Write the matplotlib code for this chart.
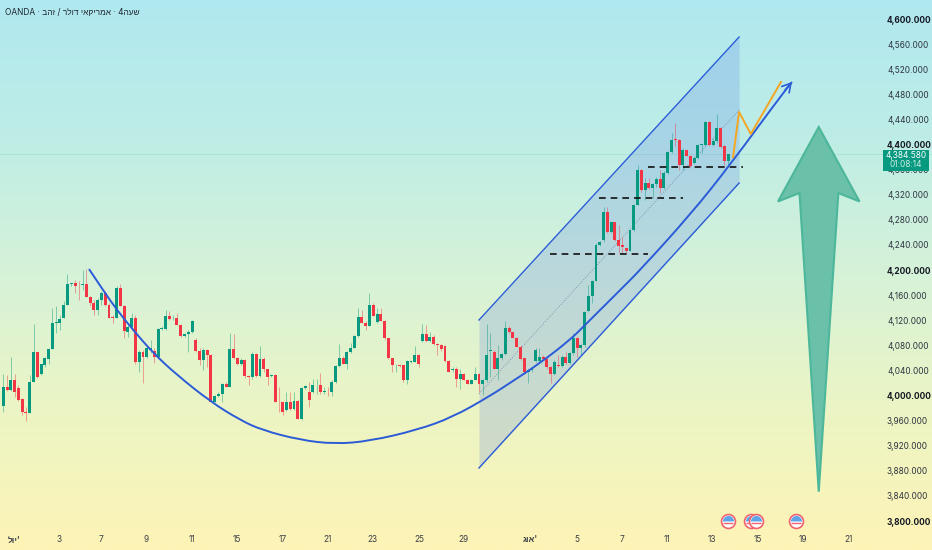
import numpy as np
import matplotlib
matplotlib.use("Agg")
import matplotlib.pyplot as plt
from matplotlib.colors import LinearSegmentedColormap
from matplotlib.patches import Polygon, Rectangle, PathPatch
from matplotlib.path import Path

plt.rcParams['font.family'] = ['Inter', 'Liberation Sans', 'DejaVu Sans']

# 4h gold candles
opens = [3983, 4013, 4008, 4024, 4012, 3995, 3974, 3972, 4021, 4069,
         4035, 4048, 4058, 4074, 4115, 4115, 4123, 4145, 4177, 4179,
         4175, 4176, 4177, 4157, 4148, 4136, 4152, 4163, 4144, 4125,
         4124, 4171, 4143, 4102, 4109, 4123, 4054, 4069, 4061, 4073,
         4071, 4062, 4106, 4106, 4126, 4123, 4124, 4113, 4095, 4098,
         4102, 4089, 4071, 4056, 4072, 4065, 3990, 3999, 4003, 4019,
         4014, 4074, 4059, 4050, 4057, 4031, 4029, 4066, 4031, 4058,
         4042, 4031, 4033, 3990, 3990, 3977, 3990, 3978, 3991, 3963,
         4012, 4006, 4006, 4016, 4017, 4006, 4006, 4005, 4022, 4047,
         4060, 4051, 4069, 4075, 4095, 4125, 4116, 4110, 4145, 4117,
         4130, 4119, 4091, 4059, 4048, 4048, 4048, 4024, 4054, 4054,
         4065, 4087, 4098, 4087, 4093, 4082, 4080, 4079, 4055, 4040,
         4043, 4026, 4035, 4025, 4019, 4025, 4035, 4019, 4025, 4071,
         4070, 4043, 4059, 4066, 4108, 4101, 4092, 4078, 4059, 4038,
         4041, 4055, 4055, 4061, 4058, 4045, 4034, 4049, 4047, 4061,
         4052, 4068, 4091, 4075, 4080, 4134, 4159, 4182, 4240, 4248,
         4293, 4260, 4276, 4248, 4240, 4235, 4231, 4263, 4304, 4360,
         4328, 4338, 4330, 4337, 4345, 4330, 4354, 4388, 4408, 4407,
         4368, 4391, 4382, 4370, 4378, 4399, 4399, 4436, 4400, 4405,
         4426, 4397, 4374]
highs = [4035, 4033, 4061, 4035, 4017, 3996, 3982, 4033, 4114, 4070,
         4051, 4061, 4075, 4139, 4142, 4128, 4150, 4194, 4180, 4184,
         4182, 4200, 4201, 4159, 4152, 4155, 4166, 4166, 4147, 4128,
         4174, 4178, 4144, 4113, 4131, 4128, 4073, 4073, 4081, 4089,
         4075, 4107, 4110, 4136, 4135, 4128, 4132, 4114, 4099, 4105,
         4120, 4091, 4075, 4075, 4074, 4066, 4001, 4005, 4020, 4021,
         4100, 4098, 4061, 4059, 4058, 4033, 4070, 4068, 4079, 4061,
         4043, 4034, 4035, 4014, 3992, 4006, 4006, 4006, 3993, 4014,
         4017, 4022, 4027, 4027, 4036, 4014, 4014, 4024, 4049, 4082,
         4063, 4071, 4083, 4096, 4139, 4136, 4118, 4163, 4147, 4139,
         4139, 4120, 4092, 4060, 4051, 4049, 4049, 4056, 4056, 4079,
         4066, 4114, 4112, 4102, 4096, 4083, 4082, 4080, 4056, 4045,
         4045, 4043, 4036, 4026, 4027, 4045, 4036, 4026, 4114, 4099,
         4072, 4081, 4068, 4118, 4110, 4102, 4094, 4080, 4060, 4043,
         4045, 4075, 4075, 4065, 4059, 4047, 4056, 4065, 4065, 4070,
         4070, 4099, 4093, 4082, 4134, 4176, 4184, 4243, 4247, 4301,
         4301, 4277, 4277, 4272, 4253, 4237, 4264, 4305, 4368, 4361,
         4346, 4346, 4338, 4348, 4360, 4357, 4389, 4418, 4434, 4408,
         4394, 4392, 4383, 4381, 4401, 4401, 4438, 4438, 4410, 4449,
         4428, 4399, 4385]
lows = [3973, 4007, 4007, 3998, 3992, 3969, 3959, 3972, 4021, 4028,
        4033, 4046, 4050, 4074, 4099, 4105, 4123, 4144, 4175, 4163,
        4152, 4168, 4157, 4142, 4128, 4128, 4144, 4142, 4123, 4115,
        4124, 4142, 4091, 4094, 4105, 4051, 4038, 4020, 4059, 4067,
        4052, 4062, 4105, 4105, 4120, 4120, 4112, 4094, 4093, 4070,
        4100, 4070, 4049, 4041, 4045, 3989, 3989, 3997, 3990, 4013,
        4014, 4058, 4049, 4049, 4028, 4017, 4027, 4030, 4030, 4038,
        4017, 4030, 3989, 3974, 3969, 3976, 3977, 3977, 3962, 3961,
        4011, 3981, 4004, 4003, 4003, 4003, 4000, 4000, 4020, 4045,
        4050, 4042, 4068, 4075, 4094, 4115, 4105, 4110, 4126, 4115,
        4118, 4089, 4058, 4038, 4038, 4045, 4022, 4019, 4052, 4053,
        4045, 4086, 4086, 4086, 4080, 4065, 4071, 4054, 4037, 4038,
        4014, 4011, 4024, 4018, 4018, 4024, 4006, 4001, 4022, 4030,
        4042, 4025, 4057, 4065, 4099, 4091, 4077, 4057, 4035, 4020,
        4038, 4054, 4054, 4056, 4043, 4020, 4033, 4045, 4046, 4051,
        4051, 4065, 4062, 4065, 4078, 4133, 4148, 4182, 4239, 4245,
        4259, 4259, 4247, 4227, 4227, 4227, 4230, 4262, 4304, 4325,
        4312, 4329, 4314, 4333, 4322, 4329, 4353, 4386, 4397, 4360,
        4360, 4381, 4362, 4369, 4377, 4386, 4398, 4397, 4398, 4402,
        4394, 4368, 4364]
closes = [4013, 4008, 4024, 4005, 3993, 3973, 3972, 4021, 4069, 4029,
          4050, 4059, 4074, 4116, 4117, 4122, 4145, 4177, 4179, 4175,
          4174, 4177, 4157, 4148, 4136, 4153, 4163, 4144, 4124, 4124,
          4171, 4143, 4103, 4109, 4123, 4054, 4069, 4061, 4075, 4075,
          4062, 4106, 4107, 4126, 4122, 4124, 4113, 4095, 4098, 4102,
          4119, 4071, 4056, 4072, 4065, 3990, 3999, 4003, 4019, 4014,
          4074, 4059, 4050, 4057, 4031, 4029, 4066, 4031, 4058, 4042,
          4030, 4033, 3990, 3989, 3974, 3990, 3978, 3991, 3963, 4012,
          4015, 3993, 4016, 4017, 4005, 4007, 4005, 4022, 4047, 4060,
          4051, 4069, 4075, 4095, 4125, 4116, 4110, 4144, 4127, 4130,
          4119, 4091, 4059, 4048, 4049, 4047, 4024, 4055, 4055, 4065,
          4050, 4098, 4087, 4093, 4082, 4080, 4074, 4055, 4038, 4043,
          4027, 4035, 4025, 4019, 4025, 4035, 4019, 4025, 4064, 4073,
          4043, 4059, 4066, 4108, 4101, 4092, 4078, 4058, 4037, 4041,
          4042, 4073, 4062, 4058, 4045, 4034, 4053, 4047, 4062, 4052,
          4068, 4091, 4075, 4080, 4133, 4159, 4182, 4240, 4245, 4293,
          4260, 4276, 4248, 4239, 4237, 4231, 4263, 4304, 4360, 4328,
          4339, 4330, 4337, 4345, 4330, 4354, 4388, 4407, 4407, 4368,
          4391, 4382, 4366, 4378, 4399, 4400, 4436, 4399, 4406, 4426,
          4396, 4374, 4384.58]
last_price = 4384.58

# drawings on top of the chart: (bar, price)
curve_bars = [22.7, 26.4, 30.1, 34.4, 39.7, 46.0, 55.0, 62.7, 68.5, 78.6, 87.9, 97.1, 109.6,
              119.1, 128.9, 135.0, 142.2, 150.1, 154.1, 163.4, 168.7, 181.9, 192.5, 207.1, 208.9]
curve_prices = [4201.6, 4168.1, 4136.3, 4104.4, 4067.7, 4032.7, 3989.7, 3961.0, 3945.0, 3929.1, 3922.7, 3927.5, 3945.0,
                3965.7, 3999.2, 4023.1, 4051.8, 4088.5, 4112.4, 4168.1, 4200.0, 4287.7, 4367.3, 4486.9, 4499.6]
channel_bars = [126.0, 194.9]
channel_top = [4120.3, 4571.3]
channel_bottom = [3884.5, 4338.6]
channel_mid = [4002.4, 4455.0]
orange_bars = [193.3, 194.9, 198.0, 206.0]
orange_prices = [4380.0, 4451.8, 4416.7, 4499.6]
dash_levels = [4225.5, 4314.7, 4364.2]
dash_start = [144.8, 157.8, 170.8]
dash_end = [170.8, 180.1, 195.9]
big_arrow_bars = [216.0, 226.8, 221.2, 216.0, 210.9, 205.2]
big_arrow_prices = [4427.9, 4309.2, 4322.7, 3846.7, 4322.7, 4309.2]
flag_bars = [192.0, 198.1, 199.4, 210.0]
flag_price = 3800

y_ticks = list(range(3800, 4601, 40))
y_major = [3800, 4000, 4200, 4400, 4600]
x_tick_bars = [2.8, 14.8, 25.9, 37.8, 49.9, 61.9, 74.0, 86.0, 97.9, 110.1, 122.0,
               139.5, 152.0, 163.9, 175.8, 187.7, 199.9, 211.9, 224.0]
# hebrew goes in visual order, matplotlib does no bidi
x_tick_labels = ["לוי'", "3", "7", "9", "11", "15", "17", "21", "23", "25", "29",
                 "גוא'", "5", "7", "11", "13", "15", "19", "21"]
title_text = "OANDA · בהז / רלוד יאקירמא · 4העש"

GREEN = "#089981"
RED = "#F23645"
BLUE = "#2B5BD7"


def smooth_path(xs, ys):
    # quadratic spline through the mid points, the read points are the control points
    pts = np.column_stack([xs, ys])
    verts = [pts[0]]
    codes = [Path.MOVETO]
    for i in range(1, len(pts) - 1):
        end = pts[i + 1] if i == len(pts) - 2 else (pts[i] + pts[i + 1]) / 2
        verts += [pts[i], end]
        codes += [Path.CURVE3, Path.CURVE3]
    return Path(verts, codes)


fig = plt.figure(figsize=(9.32, 5.5), dpi=100)
ax = fig.add_axes([0, 0, 1, 1])

# background gradient
bg = LinearSegmentedColormap.from_list("bg", ["#B0E8F0", "#BEEDE6", "#D6F2D8", "#ECF5C4", "#FEF3B6"])
ax.imshow(np.linspace(0, 1, 256).reshape(-1, 1), cmap=bg, aspect="auto",
          extent=(0, 1, 0, 1), transform=ax.transAxes, zorder=0)

bars = np.arange(len(closes))
opens_a, closes_a = np.array(opens), np.array(closes)
colors = np.where(closes_a >= opens_a, GREEN, RED)

# channel
ax.fill_between(channel_bars, channel_bottom, channel_top, color="#5A7FE8", alpha=0.22, lw=0, zorder=1)
ax.plot(channel_bars, channel_top, color=BLUE, lw=1, zorder=3)
ax.plot(channel_bars, channel_bottom, color=BLUE, lw=1, zorder=3)
ax.plot(channel_bars, channel_mid, color="#7F93B0", lw=0.7, ls=":", zorder=2)

ax.axhline(last_price, color=GREEN, lw=0.7, alpha=0.12, zorder=1)

# candles
ax.vlines(bars, lows, highs, colors=colors, lw=0.7, alpha=0.45, zorder=2)
body = np.maximum(np.abs(closes_a - opens_a), 1.2)
ax.bar(bars, body, bottom=np.minimum(opens_a, closes_a), width=0.78, color=colors, lw=0, zorder=2.5)

for level, x0, x1 in zip(dash_levels, dash_start, dash_end):
    ax.plot([x0, x1], [level, level], color="#111111", lw=1.2, ls=(0, (4, 3)), zorder=4)

ax.add_patch(PathPatch(smooth_path(curve_bars, curve_prices), fill=False, edgecolor=BLUE, lw=1.4, zorder=5))
ax.annotate("", xy=(curve_bars[-1], curve_prices[-1]), xytext=(curve_bars[-2], curve_prices[-2]),
            arrowprops=dict(arrowstyle="->,head_length=0.6,head_width=0.35", color=BLUE, lw=1.2,
                            shrinkA=0, shrinkB=0), zorder=5)
ax.plot(orange_bars, orange_prices, color="#F5A623", lw=1.4, zorder=5)

ax.add_patch(Polygon(np.column_stack([big_arrow_bars, big_arrow_prices]), closed=True,
                     facecolor="#6AC0A9", edgecolor="#4DB79B", lw=1.5, joinstyle="miter", zorder=6))

# event flags
for bx in flag_bars:
    ax.plot(bx, flag_price, "o", ms=10, mfc="white", mec="#F0636E", mew=1.2, zorder=7)
    ax.plot(bx, flag_price, "o", ms=8, fillstyle="top", mfc="#5FA5E8", mec="none", mfcalt="none", zorder=7)
    ax.plot(bx, flag_price - 2.5, "_", ms=7, mec="#F0636E", mew=1, zorder=7)

ax.set_xlim(-0.874, 246.0)
ax.set_ylim(3753.8, 4630.3)

for s in ax.spines.values():
    s.set_visible(False)

ax.yaxis.tick_right()
ax.set_yticks(y_ticks)
ax.set_yticklabels([f"{v:,}.000" for v in y_ticks], fontsize=6.0, color="#2E3440")
for v, lab in zip(y_ticks, ax.get_yticklabels()):
    if v in y_major:
        lab.set_fontweight("bold")
        lab.set_color("#131722")
ax.tick_params(axis="y", length=0, pad=-32.4)
ax.set_xticks(x_tick_bars)
ax.set_xticklabels(x_tick_labels, fontsize=6.0, color="#3A3F4A")
for lab in ax.get_xticklabels()[::11][:2]:
    lab.set_fontweight("bold")
ax.tick_params(axis="x", length=0, pad=-10.5)

# last price box
ax.add_patch(Rectangle((883 / 932, 1 - 171 / 550), 46 / 932, 21 / 550, transform=ax.transAxes,
                       facecolor=GREEN, edgecolor="none", zorder=9))
ax.text(906 / 932, 1 - 155.3 / 550, "4,384.580", transform=ax.transAxes, color="white",
        fontsize=6.0, ha="center", va="center", zorder=10)
ax.text(906 / 932, 1 - 164.7 / 550, "01:08:14", transform=ax.transAxes, color="#CDEDE5",
        fontsize=6.0, ha="center", va="center", zorder=10)

ax.text(5 / 932, 1 - 12.5 / 550, title_text, transform=ax.transAxes, color="#1F2530",
        fontsize=6.0, ha="left", va="center", zorder=10)

fig.savefig("out.png", dpi=100)
